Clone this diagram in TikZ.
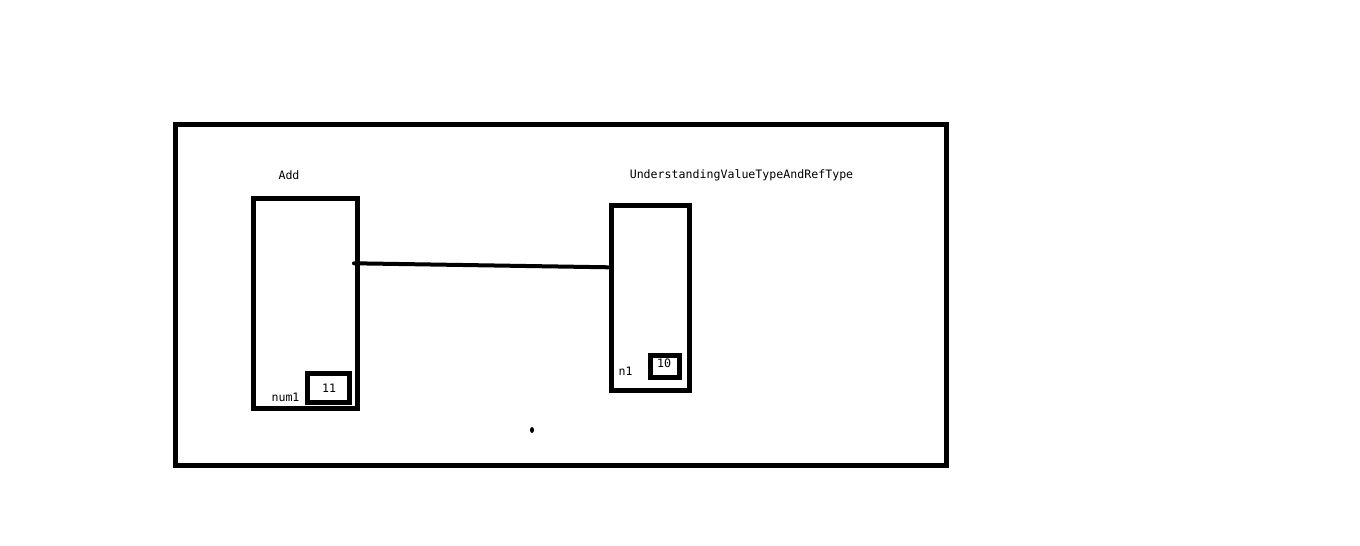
\documentclass[tikz,border=0pt]{standalone}
\usepackage{fontspec}
\setmonofont{DejaVu Sans Mono}
\begin{document}
\begin{tikzpicture}[
    box/.style={draw, line width=0.05cm, inner sep=0pt},
    lbl/.style={font=\ttfamily\fontsize{3.3}{4}\selectfont, inner sep=0pt}
  ]
                \useasboundingbox (0,0) rectangle (13.6,5.46);

                % Outer frame
                \draw[line width=0.05cm] (1.75,0.80) rectangle (9.46,4.21);

                % Stack frame of Add
                \node[box, minimum width=1.04cm, minimum height=2.10cm] (addframe) at (3.055,2.42) {};
                \node[lbl] (addtitle) at (2.89,3.71) {Add};
                \node[box, minimum width=0.42cm, minimum height=0.29cm] (num1slot) at (3.28,1.58) {};
                \node[lbl] (num1val) at (3.29,1.58) {11};
                \node[lbl] (num1name) at (2.855,1.49) {num1};

                % Stack frame of the caller
                \node[box, minimum width=0.78cm, minimum height=1.85cm] (callframe) at (6.507,2.48) {};
                \node[lbl] (calltitle) at (7.415,3.705) {UnderstandingValueTypeAndRefType};
                \node[box, minimum width=0.284cm, minimum height=0.223cm] (n1slot) at (6.65,1.797) {};
                \node[lbl] (n1val) at (6.64,1.825) {10};
                \node[lbl] (n1name) at (6.255,1.75) {n1};

                % Link between the frames
                \draw[line width=0.04cm, line cap=round] ([xshift=-0.6mm,yshift=4.07mm]addframe.east) -- ([xshift=-0.1mm,yshift=3.07mm]callframe.west);

                % Stray dot
                \fill (5.32,1.16) ellipse (0.02 and 0.03);
            \end{tikzpicture}
\end{document}
